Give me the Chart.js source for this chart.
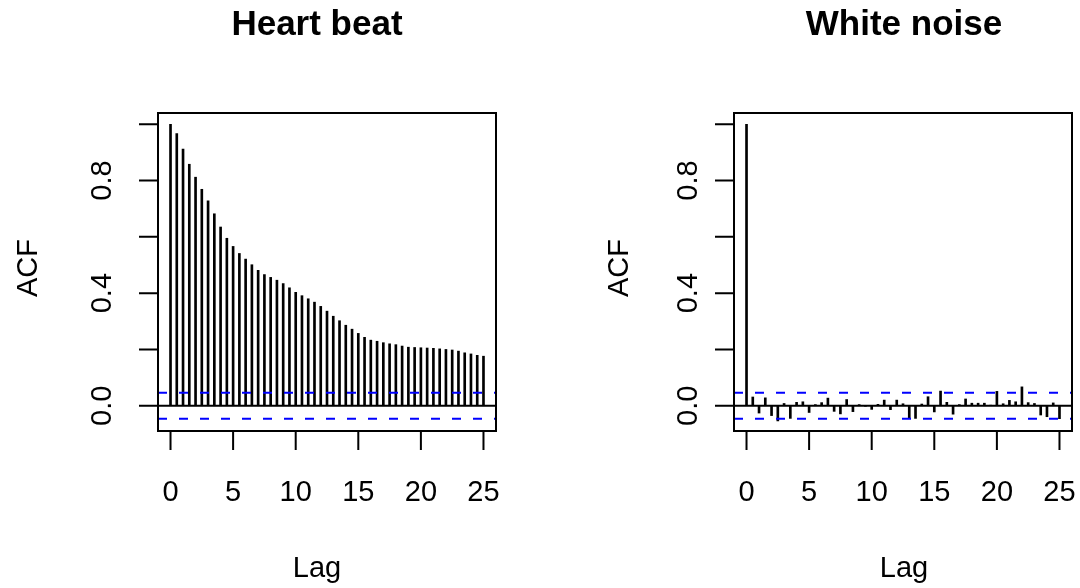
<!DOCTYPE html>
<html>
<head>
<meta charset="utf-8">
<script src="https://cdn.jsdelivr.net/npm/chart.js@4.4.1/dist/chart.umd.min.js"></script>
<style>
	body { margin: 0; background: #fff; width: 1080px; height: 588px; overflow: hidden; position: relative; }
	canvas { position: absolute; top: 0; }
</style>
</head>
<body>
<canvas id="heartChart" width="576" height="588" style="left:0"></canvas>
<canvas id="noiseChart" width="504" height="588" style="left:576px"></canvas>
<script>
// lags in seconds (two samples per unit)
const lags = [0, 0.5, 1, 1.5, 2, 2.5, 3, 3.5, 4, 4.5, 5, 5.5, 6, 6.5, 7, 7.5, 8, 8.5, 9, 9.5,
	10, 10.5, 11, 11.5, 12, 12.5, 13, 13.5, 14, 14.5, 15, 15.5, 16, 16.5, 17, 17.5, 18, 18.5, 19, 19.5,
	20, 20.5, 21, 21.5, 22, 22.5, 23, 23.5, 24, 24.5, 25];

const heartAcf = [1.000, 0.967, 0.912, 0.858, 0.812, 0.769, 0.728, 0.682, 0.635, 0.595,
	0.566, 0.541, 0.521, 0.501, 0.481, 0.466, 0.456, 0.446, 0.434, 0.419,
	0.403, 0.391, 0.380, 0.368, 0.353, 0.336, 0.318, 0.302, 0.286, 0.272,
	0.257, 0.243, 0.233, 0.229, 0.224, 0.220, 0.217, 0.212, 0.208, 0.207,
	0.206, 0.205, 0.204, 0.202, 0.200, 0.198, 0.194, 0.188, 0.184, 0.179, 0.176];

const noiseAcf = [1.000, 0.031, -0.026, 0.028, -0.035, -0.054, 0.008, -0.045, 0.012, 0.014,
	-0.024, 0.004, 0.011, 0.027, -0.020, -0.029, 0.022, -0.021, 0.004, -0.002,
	-0.013, 0.005, 0.020, -0.014, 0.020, 0.007, -0.043, -0.045, 0.006, 0.032,
	-0.022, 0.052, 0.012, -0.030, 0.004, 0.024, 0.009, 0.009, 0.009, 0.002,
	0.051, 0.007, 0.019, 0.014, 0.067, 0.011, 0.008, -0.033, -0.039, 0.010, -0.046];

// 95% bounds, +-1.96/sqrt(n)
const heartCi = 0.046;
const noiseCi = 0.046;

const xTicks = [0, 5, 10, 15, 20, 25];
const yTicks = [0, 0.2, 0.4, 0.6, 0.8, 1.0];
const yTickLabels = ['0.0', '', '0.4', '', '0.8', ''];
const xRange = [-1, 26];
const yRange = [-0.0898, 1.0401];

const FONT = '"Liberation Sans", Arial, Helvetica, sans-serif';

// box, tick marks and text drawn off the chart's own scales
const baseAxes = {
	id: 'baseAxes',
	afterDatasetsDraw(chart, args, opts) {
		const ctx = chart.ctx;
		const a = chart.chartArea;
		const x = chart.scales.x;
		const y = chart.scales.y;
		ctx.save();
		ctx.strokeStyle = '#000';
		ctx.lineWidth = 2;
		ctx.strokeRect(a.left, a.top, a.right - a.left, a.bottom - a.top);

		ctx.beginPath();
		xTicks.forEach(function (v) {
			const px = x.getPixelForValue(v);
			ctx.moveTo(px, a.bottom);
			ctx.lineTo(px, a.bottom + 19);
		});
		yTicks.forEach(function (v) {
			const py = y.getPixelForValue(v);
			ctx.moveTo(a.left, py);
			ctx.lineTo(a.left - 19, py);
		});
		ctx.stroke();

		ctx.fillStyle = '#000';
		ctx.textAlign = 'center';
		ctx.textBaseline = 'alphabetic';
		ctx.font = '29px ' + FONT;
		xTicks.forEach(function (v) {
			ctx.fillText(String(v), x.getPixelForValue(v), a.bottom + 70);
		});
		yTicks.forEach(function (v, i) {
			if (!yTickLabels[i]) return;
			ctx.save();
			ctx.translate(a.left - opts.yLabelGap, y.getPixelForValue(v));
			ctx.rotate(-Math.PI / 2);
			ctx.fillText(yTickLabels[i], 0, 0);
			ctx.restore();
		});

		ctx.fillText('Lag', opts.textX, 577);
		ctx.save();
		ctx.translate(opts.acfX, 268);
		ctx.rotate(-Math.PI / 2);
		ctx.fillText('ACF', 0, 0);
		ctx.restore();

		ctx.font = 'bold 35px ' + FONT;
		ctx.fillText(opts.title, opts.textX, 35);
		ctx.restore();
	}
};

function acfChart(canvasId, values, ci, title, text) {
	const ctx = document.getElementById(canvasId).getContext('2d');
	const points = lags.map(function (lag, i) { return { x: lag, y: values[i] }; });
	const hline = function (level) {
		return [{ x: xRange[0], y: level }, { x: xRange[1], y: level }];
	};
	const dashed = function (level) {
		return {
			type: 'line',
			data: hline(level),
			borderColor: '#0000ff',
			borderWidth: 2,
			borderDash: [9, 12],
			pointRadius: 0,
			order: 1
		};
	};

	return new Chart(ctx, {
		type: 'bar',
		data: {
			datasets: [
				{
					type: 'bar',
					data: points,
					backgroundColor: '#000',
					barThickness: 2,
					order: 3
				},
				{
					type: 'line',
					data: hline(0),
					borderColor: '#000',
					borderWidth: 2,
					pointRadius: 0,
					order: 2
				},
				dashed(ci),
				dashed(-ci)
			]
		},
		options: {
			responsive: false,
			animation: false,
			devicePixelRatio: 1,
			layout: { padding: { left: 158, right: text.padRight, top: 113, bottom: 157 } },
			scales: {
				x: { type: 'linear', min: xRange[0], max: xRange[1], offset: false, display: false },
				y: { type: 'linear', min: yRange[0], max: yRange[1], display: false }
			},
			plugins: {
				legend: { display: false },
				tooltip: { enabled: false },
				baseAxes: {
					title: title,
					textX: text.textX,
					acfX: text.acfX,
					yLabelGap: text.yLabelGap
				}
			}
		},
		plugins: [baseAxes]
	});
}

acfChart('heartChart', heartAcf, heartCi, 'Heart beat',
	{ textX: 317, acfX: 37, yLabelGap: 47.5, padRight: 80 });
acfChart('noiseChart', noiseAcf, noiseCi, 'White noise',
	{ textX: 328, acfX: 52, yLabelGap: 37.5, padRight: 8 });
</script>
</body>
</html>
